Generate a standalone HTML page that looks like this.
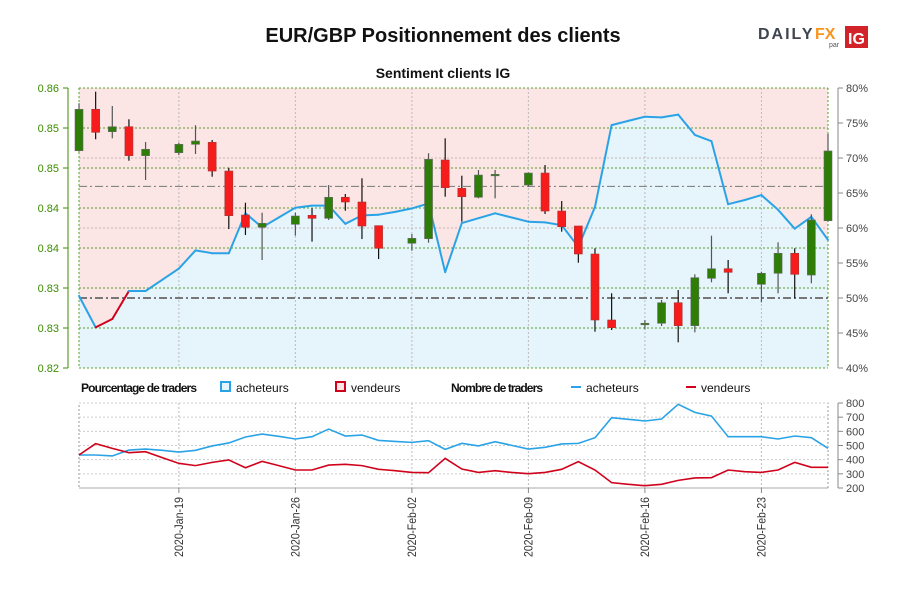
<!DOCTYPE html>
<html><head><meta charset="utf-8"><style>
html,body{margin:0;padding:0;background:#fff;}
svg{display:block;font-family:"Liberation Sans",sans-serif;}
</style></head><body>
<svg id="chart" width="900" height="600" viewBox="0 0 900 600" xmlns="http://www.w3.org/2000/svg">
<rect width="900" height="600" fill="#fff"/>
<text x="443" y="42" text-anchor="middle" font-size="20" font-weight="bold" fill="#111">EUR/GBP Positionnement des clients</text>
<text x="443" y="78" text-anchor="middle" font-size="14" font-weight="bold" fill="#111">Sentiment clients IG</text>
<g>
<text x="758" y="39" font-size="16" font-weight="bold" fill="#3d4650" letter-spacing="2">DAILY</text>
<text x="815" y="39" font-size="16" font-weight="bold" fill="#f7941d">FX</text>
<text x="829" y="47" font-size="7" fill="#555">par</text>
<rect x="845" y="26" width="23" height="22" fill="#d2232a"/>
<text x="856.5" y="44" text-anchor="middle" font-size="16" font-weight="bold" fill="#fff">IG</text>
</g>
<g id="main"></g>
<g id="lower"></g>
<g id="legend">
<text x="81" y="392" font-size="12" font-weight="bold" fill="#111" textLength="116">Pourcentage de traders</text>
<rect x="221" y="382" width="9" height="9" fill="#e6f4fc" stroke="#2aa3e6" stroke-width="2"/>
<text x="236" y="392" font-size="12" fill="#111">acheteurs</text>
<rect x="336" y="382" width="9" height="9" fill="#fbe5e5" stroke="#d0021b" stroke-width="2"/>
<text x="351" y="392" font-size="12" fill="#111">vendeurs</text>
<text x="451" y="392" font-size="12" font-weight="bold" fill="#111" textLength="92">Nombre de traders</text>
<rect x="571" y="386" width="10" height="2" fill="#2aa3e6"/>
<text x="586" y="392" font-size="12" fill="#111">acheteurs</text>
<rect x="686" y="386" width="10" height="2" fill="#d0021b"/>
<text x="701" y="392" font-size="12" fill="#111">vendeurs</text>
</g>
</svg>
<script>
// ---- data ----
const dayCount = 46; // Jan 13 .. Feb 27
const dateTicks = [6, 13, 20, 27, 34, 41];
const dateLabels = ["2020-Jan-19","2020-Jan-26","2020-Feb-02","2020-Feb-09","2020-Feb-16","2020-Feb-23"];
const priceTicks = [0.8575,0.8525,0.8475,0.8425,0.8375,0.8325,0.8275,0.8225];
const priceLabels = ["0.86","0.85","0.85","0.84","0.84","0.83","0.83","0.82"];
const pctTicks = [80,75,70,65,60,55,50,45,40];
const countTicks = [800,700,600,500,400,300,200];
const candleDay = [0,1,2,3,4,6,7,8,9,10,11,13,14,15,16,17,18,20,21,22,23,24,25,27,28,29,30,31,32,34,35,36,37,38,39,41,42,43,44,45];
const candleOpen = [.84966,.85484,.85204,.85266,.84904,.84941,.85046,.85071,.84712,.84162,.84009,.84046,.84159,.84121,.84384,.84325,.84029,.83809,.83866,.8485,.84496,.84384,.84654,.84537,.84687,.84212,.84025,.83675,.8285,.82796,.82809,.83066,.82779,.83371,.83491,.83296,.83434,.83684,.83412,.84091];
const candleClose = [.85484,.85196,.85266,.84904,.84984,.85046,.85087,.84712,.84154,.84009,.84059,.8415,.84121,.84384,.84325,.84025,.83746,.83871,.84859,.84504,.84391,.84662,.84671,.84687,.84212,.84016,.83675,.8285,.82754,.82809,.83066,.82779,.83379,.83491,.83446,.83434,.83684,.83421,.841,.84963];
const candleHigh = [.85559,.85704,.85525,.85359,.85075,.85066,.85284,.851,.84754,.84316,.84191,.84191,.84246,.84537,.84425,.84621,.84029,.83925,.84934,.85121,.84654,.84725,.84725,.84696,.84787,.84337,.84025,.83746,.83184,.8285,.831,.83225,.83421,.83904,.836,.83454,.83821,.83746,.84171,.85175];
const candleLow = [.84954,.85109,.85121,.84841,.846,.84912,.84925,.84641,.83987,.83912,.836,.83904,.83829,.841,.84216,.83862,.83612,.83716,.83816,.84391,.84079,.84371,.84371,.84516,.84175,.83954,.83566,.82704,.82725,.82734,.82775,.82571,.82696,.83321,.83184,.83071,.83184,.83121,.83309,.84079];
const longPct = [50.3,45.8,47.0,51.0,51.0,52.6,54.2,56.8,56.4,56.4,62.1,60.1,61.5,62.9,63.2,63.2,60.6,61.8,61.9,62.3,62.8,63.5,53.7,60.7,61.4,62.1,61.5,60.9,60.8,60.4,57.3,63.0,74.7,75.3,75.9,75.8,76.2,73.3,72.4,63.4,64.0,64.7,62.6,59.9,61.6,58.3];
const buyersCount = [433,433,426,468,475,466,454,466,497,518,560,581,565,546,562,616,567,574,536,529,522,534,473,515,497,527,501,475,487,511,515,555,696,685,673,687,791,734,708,562,562,562,546,567,555,480];
const sellersCount = [433,513,480,449,456,414,374,358,381,398,343,388,358,327,327,362,367,358,332,322,310,308,409,334,310,322,310,301,310,332,386,327,238,226,216,226,254,271,273,327,315,310,327,381,346,346];
const priceLevel = 0.8452;
// ---- scales ----
const X0=79, X1=828, Y0=88, Y1=368, LY0=403, LY1=488;
const NS="http://www.w3.org/2000/svg";
const xDay = d => X0 + d*(X1-X0)/(dayCount-1);
const yPrice = p => Y0 + (priceTicks[0]-p)/(priceTicks[0]-priceTicks[priceTicks.length-1])*(Y1-Y0);
const yPct = v => Y0 + (80-v)/40*(Y1-Y0);
const yCount = v => LY0 + (800-v)/600*(LY1-LY0);
function el(tag, attrs, parent, txt){const e=document.createElementNS(NS,tag);for(const k in attrs)e.setAttribute(k,attrs[k]);if(txt!==undefined)e.textContent=txt;parent.appendChild(e);return e;}
const main=document.getElementById('main'), lower=document.getElementById('lower');
// backgrounds
let bg=el('rect',{x:X0,y:Y0,width:X1-X0,height:Y1-Y0,fill:'#fbe5e5'},main);


let pts=longPct.map((v,i)=>xDay(i)+','+yPct(v));
let area=el('polygon',{points:X0+','+Y1+' '+pts.join(' ')+' '+X1+','+Y1,fill:'#e6f4fc'},main);


// grids
[70,60].forEach(v=>el('line',{x1:X0,x2:X1,y1:yPct(v),y2:yPct(v),stroke:'#c8b4b4','stroke-dasharray':'2,2','stroke-width':1},main));
priceTicks.forEach(p=>{let g=el('line',{x1:X0,x2:X1,y1:yPrice(p),y2:yPrice(p),stroke:'#5aa02c','stroke-dasharray':'2,2','stroke-width':1},main);

});
[X0,X1].forEach(x=>el('line',{x1:x,x2:x,y1:Y0,y2:Y1,stroke:'#5aa02c','stroke-dasharray':'2,2'},main));
dateTicks.forEach(d=>{el('line',{x1:xDay(d),x2:xDay(d),y1:Y0,y2:Y1,stroke:'#bbb','stroke-dasharray':'2,2'},main);
el('line',{x1:xDay(d),x2:xDay(d),y1:LY0,y2:LY1,stroke:'#bbb','stroke-dasharray':'2,2'},lower);});
// reference lines
let r50=el('line',{x1:X0,x2:X1,y1:yPct(50),y2:yPct(50),stroke:'#777','stroke-width':2,'stroke-dasharray':'8,3,2,3'},main);


let pl=el('line',{x1:X0,x2:X1,y1:yPrice(priceLevel),y2:yPrice(priceLevel),stroke:'#777','stroke-width':1,'stroke-dasharray':'8,3,2,3'},main);


// sentiment line
for(let i=0;i<longPct.length-1;i++){
 let s=el('line',{x1:xDay(i),y1:yPct(longPct[i]),x2:xDay(i+1),y2:yPct(longPct[i+1]),stroke:longPct[i]<50?'#d0021b':'#2aa3e6','stroke-width':2,'stroke-linecap':'round'},main);
 
 
}
// candles
candleDay.forEach((d,k)=>{
 const o=candleOpen[k],c=candleClose[k],up=c>=o,x=xDay(d);
 let w=el('line',{x1:x,x2:x,y1:yPrice(candleHigh[k]),y2:yPrice(candleLow[k]),stroke:up?'#555':'#111','stroke-width':1.2},main);
 
 
 const yt=yPrice(Math.max(o,c)), yb=yPrice(Math.min(o,c));
 let b=el('rect',{x:x-4,y:yt,width:8,height:Math.max(1.5,yb-yt),fill:up?'#2e7d07':'#f61c1c',stroke:up?'#6a6a6a':'#a33',"stroke-width":0.6},main);
 
 
});
// left axis
el('line',{x1:68,x2:68,y1:Y0,y2:Y1,stroke:'#3c8c00'},main);
priceTicks.forEach((p,i)=>{el('line',{x1:63,x2:68,y1:yPrice(p),y2:yPrice(p),stroke:'#3c8c00'},main);
 let t=el('text',{x:59,y:yPrice(p)+4,'text-anchor':'end','font-size':11,fill:'#3c8c00'},main,priceLabels[i]);
 
 });
// right axis
el('line',{x1:838,x2:838,y1:Y0,y2:Y1,stroke:'#888'},main);
pctTicks.forEach(v=>{el('line',{x1:838,x2:843,y1:yPct(v),y2:yPct(v),stroke:'#888'},main);
 let t=el('text',{x:846,y:yPct(v)+4,'font-size':11,fill:'#444'},main,v+'%');
 
 });
// lower panel
el('rect',{x:X0,y:LY0,width:X1-X0,height:LY1-LY0,fill:'none',stroke:'#999','stroke-dasharray':'2,2'},lower);
countTicks.forEach(v=>{el('line',{x1:X0,x2:X1,y1:yCount(v),y2:yCount(v),stroke:'#ccc','stroke-dasharray':'2,2'},lower);
 el('line',{x1:838,x2:843,y1:yCount(v),y2:yCount(v),stroke:'#888'},lower);
 let t=el('text',{x:846,y:yCount(v)+4,'font-size':11,fill:'#444'},lower,v);
 
 });
el('line',{x1:838,x2:838,y1:LY0,y2:LY1,stroke:'#888'},lower);
el('line',{x1:X0,x2:X1,y1:LY1,y2:LY1,stroke:'#aaa'},lower);
let bl=el('polyline',{points:buyersCount.map((v,i)=>xDay(i)+','+yCount(v)).join(' '),fill:'none',stroke:'#2aa3e6','stroke-width':1.6},lower);


let sl=el('polyline',{points:sellersCount.map((v,i)=>xDay(i)+','+yCount(v)).join(' '),fill:'none',stroke:'#d0021b','stroke-width':1.6},lower);


dateTicks.forEach((d,i)=>{const x=xDay(d);
 el('line',{x1:x,x2:x,y1:LY1,y2:LY1+5,stroke:'#888'},lower);
 let t=el('text',{x:0,y:0,transform:'translate('+(x+4)+',497) rotate(-90)','text-anchor':'end','font-size':12,fill:'#333',textLength:60,lengthAdjust:'spacingAndGlyphs'},lower,dateLabels[i]);
 
 });
</script>
</body></html>
